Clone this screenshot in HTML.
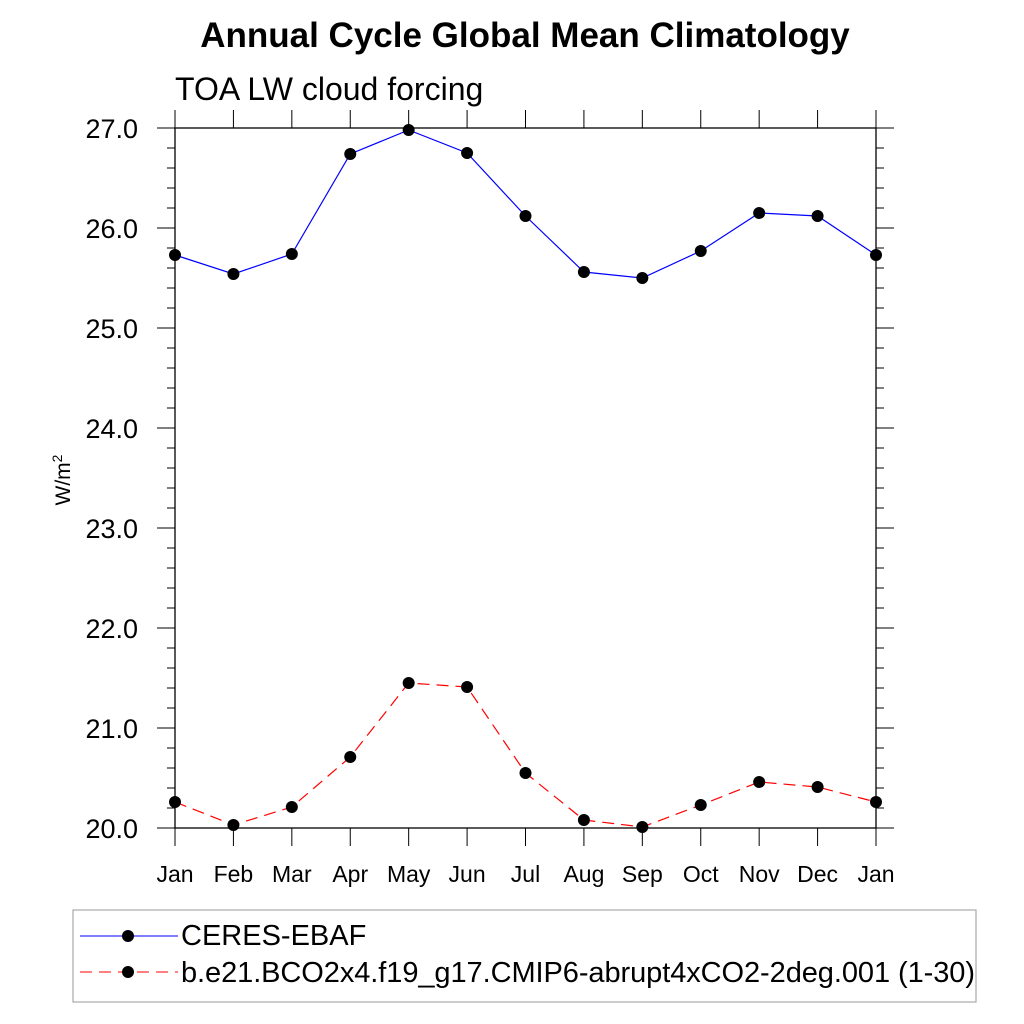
<!DOCTYPE html>
<html><head><meta charset="utf-8"><style>body{margin:0;background:#fff}svg{display:block;font-family:"Liberation Sans",sans-serif}</style></head>
<body>
<svg id="chart" width="1024" height="1024">
<text x="525" y="47" text-anchor="middle" font-size="35" font-weight="bold">Annual Cycle Global Mean Climatology</text>
<text x="175" y="100" font-size="32">TOA LW cloud forcing</text>
<text transform="translate(70,480) rotate(-90)" text-anchor="middle" font-size="21">W/m<tspan dy="-8" font-size="14">2</tspan></text>
<g id="axes"></g><g id="series"></g>
<rect x="73" y="910" width="903" height="92" fill="none" stroke="#999"/>
<line x1="80" y1="936" x2="178" y2="936" stroke="#0000ff"/>
<circle cx="128" cy="936" r="6"/>
<text x="181" y="945" font-size="29">CERES-EBAF</text>
<line x1="80" y1="972" x2="178" y2="972" stroke="#ff0000" stroke-dasharray="12,7"/>
<circle cx="128" cy="972" r="6"/>
<text x="181" y="982" font-size="29" textLength="794">b.e21.BCO2x4.f19_g17.CMIP6-abrupt4xCO2-2deg.001 (1-30)</text>
</svg>
<script>
const months=["Jan","Feb","Mar","Apr","May","Jun","Jul","Aug","Sep","Oct","Nov","Dec","Jan"];
const ceres=[25.73,25.54,25.74,26.74,26.98,26.75,26.12,25.56,25.50,25.77,26.15,26.12,25.73];
const model=[20.26,20.03,20.21,20.71,21.45,21.41,20.55,20.08,20.01,20.23,20.46,20.41,20.26];
const yTicks=[20,21,22,23,24,25,26,27];
const NS="http://www.w3.org/2000/svg";
const X0=175,X1=876,Y0=828,Y1=128,YMIN=20,YMAX=27;
const xs=i=>X0+(X1-X0)*i/(months.length-1);
const ys=v=>Y0-(v-YMIN)/(YMAX-YMIN)*(Y0-Y1);
function mk(t,a,p){const e=document.createElementNS(NS,t);for(const k in a)e.setAttribute(k,a[k]);p.appendChild(e);return e;}
const ax=document.getElementById('axes'),sr=document.getElementById('series');
const fr=mk('rect',{x:X0,y:Y1,width:X1-X0,height:Y0-Y1,fill:'none',stroke:'#000','stroke-width':1.3},ax);


for(let v=YMIN;v<=YMAX+1e-6;v+=0.2){const y=ys(v);const maj=Math.abs(v-Math.round(v))<1e-6;const L=maj?18:8;
mk('line',{x1:X0-L,y1:y,x2:X0,y2:y,stroke:'#000'},ax);mk('line',{x1:X1,y1:y,x2:X1+L,y2:y,stroke:'#000'},ax);}
yTicks.forEach(v=>{const t=mk('text',{x:X0-37,y:ys(v)+10,'text-anchor':'end','font-size':27},ax);t.textContent=v.toFixed(1);

});
months.forEach((m,i)=>{const x=xs(i);mk('line',{x1:x,y1:Y1-18,x2:x,y2:Y1,stroke:'#000'},ax);mk('line',{x1:x,y1:Y0,x2:x,y2:Y0+18,stroke:'#000'},ax);
const t=mk('text',{x:x,y:Y0+54,'text-anchor':'middle','font-size':23},ax);t.textContent=m;

});
function draw(d,col,dash,name){const p=mk('polyline',{points:d.map((v,i)=>xs(i)+','+ys(v)).join(' '),fill:'none',stroke:col,'stroke-width':1.2,'stroke-dasharray':dash},sr);


d.forEach((v,i)=>{const c=mk('circle',{cx:xs(i),cy:ys(v),r:6,fill:'#000'},sr);

});}
draw(ceres,'#0000ff','none','ceres');
draw(model,'#ff0000','12,7','model');
</script>
</body></html>
